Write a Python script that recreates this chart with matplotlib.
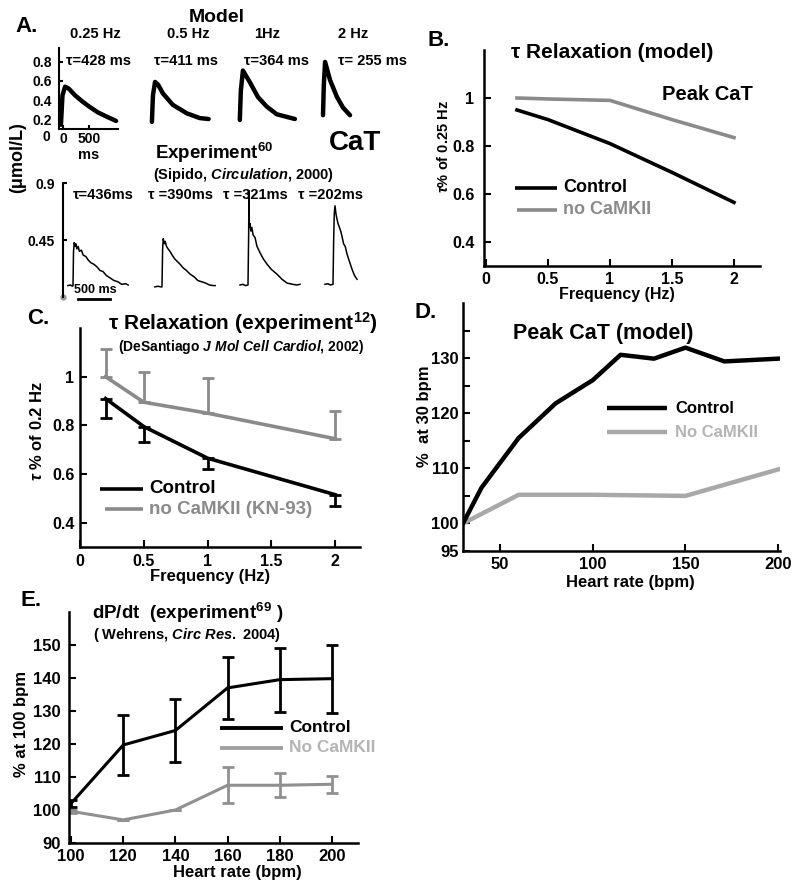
import numpy as np
import matplotlib
matplotlib.use("Agg")
import matplotlib.pyplot as plt
from matplotlib.lines import Line2D

plt.rcParams['font.family'] = ['Liberation Sans', 'DejaVu Sans']
plt.rcParams['font.weight'] = 'bold'
plt.rcParams['mathtext.fontset'] = 'custom'
plt.rcParams['mathtext.rm'] = 'Liberation Sans:bold'
plt.rcParams['mathtext.bf'] = 'Liberation Sans:bold'
plt.rcParams['mathtext.it'] = 'Liberation Sans:bold:italic'

# ---- A. model CaT traces (ms after stimulus, umol/L)
model_freqs = ['0.25 Hz', '0.5 Hz', '1Hz', '2 Hz']
model_tau = ['τ=428 ms', 'τ=411 ms', 'τ=364 ms', 'τ= 255 ms']
model_t1 = [0, 30, 80, 150, 270, 400, 520, 710, 900, 1060]
model_v1 = [0.14, 0.45, 0.54, 0.52, 0.45, 0.39, 0.34, 0.27, 0.22, 0.18]
model_t2 = [0, 20, 60, 120, 210, 400, 670, 920, 1090]
model_v2 = [0.17, 0.45, 0.59, 0.56, 0.47, 0.35, 0.26, 0.21, 0.20]
model_t3 = [0, 20, 60, 190, 350, 520, 710, 1060]
model_v3 = [0.19, 0.50, 0.71, 0.59, 0.43, 0.33, 0.25, 0.20]
model_t4 = [0, 15, 40, 135, 270, 385, 520]
model_v4 = [0.24, 0.55, 0.80, 0.61, 0.43, 0.32, 0.24]

# ---- A. experimental CaT traces (Sipido 2000)
exp_tau = ['τ=436ms', 'τ =390ms', 'τ =321ms', 'τ =202ms']
exp_t1 = [-80, -40, -10, 0, 8, 20, 30, 45, 60, 80, 100, 130, 160, 200, 240,
          280, 320, 370, 420, 470, 520, 580, 640, 700, 760, 820, 860]
exp_v1 = [0.09, 0.095, 0.085, 0.09, 0.36, 0.43, 0.40, 0.42, 0.38, 0.40, 0.36,
          0.37, 0.33, 0.32, 0.29, 0.27, 0.26, 0.24, 0.21, 0.20, 0.17, 0.15,
          0.13, 0.12, 0.10, 0.105, 0.095]
exp_t2 = [-110, -60, -20, 0, 10, 20, 35, 50, 70, 95, 125, 160, 200, 240, 280,
          330, 380, 440, 500, 560, 620, 680, 740, 800, 830]
exp_v2 = [0.08, 0.085, 0.08, 0.08, 0.38, 0.46, 0.42, 0.44, 0.40, 0.38, 0.36,
          0.33, 0.30, 0.28, 0.26, 0.23, 0.21, 0.18, 0.16, 0.13, 0.12, 0.11,
          0.095, 0.09, 0.09]
exp_t3 = [-125, -80, -40, 0, 10, 15, 20, 31, 45, 60, 80, 109, 140, 187, 240,
          296, 360, 452, 530, 608, 700, 760, 811]
exp_v3 = [0.095, 0.10, 0.09, 0.095, 0.50, 0.84, 0.55, 0.58, 0.52, 0.55, 0.49,
          0.47, 0.40, 0.35, 0.30, 0.26, 0.22, 0.18, 0.14, 0.11, 0.10, 0.095, 0.10]
exp_t4 = [-125, -80, -40, 0, 10, 20, 31, 45, 60, 78, 100, 120, 140, 165, 190,
          218, 250, 296, 335, 374]
exp_v4 = [0.10, 0.105, 0.095, 0.10, 0.45, 0.66, 0.72, 0.66, 0.62, 0.58, 0.55,
          0.52, 0.48, 0.42, 0.40, 0.34, 0.29, 0.22, 0.17, 0.14]

# ---- B. tau relaxation (model)
freq_b = [0.25, 0.5, 1, 1.5, 2]
ctrl_b = [0.95, 0.91, 0.81, 0.69, 0.565]
nocam_b = [1.0, 0.996, 0.99, 0.91, 0.835]

# ---- C. tau relaxation (experiment)
freq_c = [0.2, 0.5, 1, 2]
ctrl_c = [0.91, 0.795, 0.665, 0.515]
ctrl_c_err = [0.08, 0.065, 0.045, 0.045]
nocam_c = [1.0, 0.895, 0.85, 0.745]
nocam_c_err = [0.115, 0.125, 0.145, 0.115]

# ---- D. peak CaT (model)
hr_d_ctrl = [30, 40, 60, 80, 100, 115, 133, 150, 171, 200]
ctrl_d = [100, 106.5, 115.5, 121.8, 126, 130.6, 129.9, 131.9, 129.4, 129.9]
hr_d_nocam = [30, 60, 100, 150, 200]
nocam_d = [100, 105.2, 105.2, 105.0, 109.8]

# ---- E. dP/dt (experiment)
hr_e = [100, 120, 140, 160, 180, 200]
ctrl_e = [102, 119.7, 124.1, 137, 139.5, 139.8]
ctrl_e_err = [1, 9, 9.5, 9.5, 9.7, 10.3]
nocam_e = [99.6, 97, 100, 107.5, 107.5, 107.8]
nocam_e_err = [0.5, 0, 0, 5.4, 3.7, 2.6]

GRAY = '#8a8a8a'
W, H = 800, 885
fig = plt.figure(figsize=(8, 8.85), dpi=100)


def box(x0, y0, x1, y1):
    return [x0 / W, 1 - y1 / H, (x1 - x0) / W, (y1 - y0) / H]


def label(x, y, s, size, **kw):
    kw.setdefault('ha', 'center')
    kw.setdefault('va', 'center')
    kw.setdefault('fontweight', 'bold')
    return fig.text(x / W, 1 - y / H, s, fontsize=size, **kw)


def key(x0, x1, y, color, text, lw, size, tcolor=None, gap=6):
    fig.add_artist(Line2D([x0 / W, x1 / W], [1 - y / H] * 2, color=color,
                          lw=lw, solid_capstyle='butt'))
    label(x1 + gap, y, text, size, ha='left', color=tcolor or color)


def style(ax, lw=1.8, size=11.5):
    for s in ['top', 'right']:
        ax.spines[s].set_visible(False)
    for s in ['left', 'bottom']:
        ax.spines[s].set_linewidth(lw)
    ax.tick_params(direction='in', length=5, width=1.5, labelsize=size)


# ================= A. model traces
axm = fig.add_axes(box(59, 48, 410, 129))
model_t = [model_t1, model_t2, model_t3, model_t4]
model_v = [model_v1, model_v2, model_v3, model_v4]
model_offsets = [-40, 1710, 3400, 5000]
for t, v, off in zip(model_t, model_v, model_offsets):
    axm.plot(np.array(t) + off, v, color='k', lw=3.2, solid_capstyle='round')
axm.set_xlim(-77, 6673)
axm.set_ylim(0.095, 0.947)
style(axm, lw=1.5, size=10)
axm.spines['bottom'].set_bounds(-77, 1060)
axm.tick_params(length=3, pad=2)
axm.tick_params(axis='y', pad=5)
axm.set_yticks([0.2, 0.4, 0.6, 0.8])
axm.set_xticks([0, 500])
label(46, 137, '0', 10)
label(89, 155, 'ms', 10.5)

# ================= A. experimental traces
axx = fig.add_axes(box(63, 183, 365, 297))
exp_t = [exp_t1, exp_t2, exp_t3, exp_t4]
exp_v = [exp_v1, exp_v2, exp_v3, exp_v4]
exp_offsets = [156, 1544, 2886, 4212]
for t, v, off in zip(exp_t, exp_v, exp_offsets):
    axx.plot(np.array(t) + off, v, color='k', lw=1.1)
axx.set_xlim(0, 4711)
axx.set_ylim(0, 0.9)
style(axx, lw=1.5, size=10)
axx.spines['bottom'].set_visible(False)
axx.set_xticks([])
axx.set_yticks([0.45, 0.9])
axx.set_yticklabels(['0.45', '0.9'])
axx.tick_params(axis='y', length=3, pad=6)
axx.plot([0], [0], 'o', ms=3.5, color='#999999', clip_on=False)
axx.plot([234, 734], [-0.015, -0.015], color='k', lw=2, clip_on=False)
label(95, 290, '500 ms', 9)

label(27, 26, 'A.', 16)
label(217, 18, 'Model', 14)
for xp, s in zip([95, 188, 267, 353], model_freqs):
    label(xp, 34, s, 10.5)
for xp, s in zip([98, 186, 276, 373], model_tau):
    label(xp, 61, s, 10.5)
for xp, s in zip([103, 180, 255, 330], exp_tau):
    label(xp, 195, s, 10.5)
label(355, 143, 'CaT', 20)
label(155, 153, r'Experiment$^{60}$', 13.5, ha='left')
label(153, 175, r'(Sipido, $\it{Circulation}$, 2000)', 10.5, ha='left')
label(18, 158, '(μmol/L)', 13, rotation=90)

# ================= B
axb = fig.add_axes(box(484, 50, 760, 266))
axb.plot(freq_b, nocam_b, color=GRAY, lw=2.6)
axb.plot(freq_b, ctrl_b, color='k', lw=2.6)
axb.set_xlim(-0.016, 2.21)
axb.set_ylim(0.3, 1.2)
style(axb)
axb.set_xticks([0, 0.5, 1, 1.5, 2])
axb.set_xticklabels(['0', '0.5', '1', '1.5', '2'])
axb.set_yticks([0.4, 0.6, 0.8, 1])
axb.set_yticklabels(['0.4', '0.6', '0.8', '1'])
axb.tick_params(axis='y', pad=7)
axb.tick_params(axis='x', pad=4)
label(439, 40, 'B.', 16)
label(612, 53, 'τ Relaxation (model)', 15)
label(707, 95, 'Peak CaT', 14.5)
key(515, 557, 188, 'k', 'Control', 2.6, 13)
key(517, 557, 210, GRAY, 'no CaMKII', 2.6, 13)
label(443, 147, r'$\tau$% of 0.25 Hz', 10.5, rotation=90)
label(617, 294, 'Frequency (Hz)', 11.5)

# ================= C
axc = fig.add_axes(box(80, 328, 360, 547))
axc.errorbar(freq_c, nocam_c, yerr=[np.zeros(len(nocam_c)), nocam_c_err],
             color=GRAY, lw=2.6, elinewidth=2, capsize=4, capthick=2)
axc.errorbar(freq_c, ctrl_c, yerr=[ctrl_c_err, np.zeros(len(ctrl_c))],
             color='k', lw=2.6, elinewidth=2, capsize=4, capthick=2)
axc.set_xlim(0.008, 2.195)
axc.set_ylim(0.3, 1.2)
style(axc)
axc.set_xticks([0, 0.5, 1, 1.5, 2])
axc.set_xticklabels(['0', '0.5', '1', '1.5', '2'])
axc.set_yticks([0.4, 0.6, 0.8, 1])
axc.set_yticklabels(['0.4', '0.6', '0.8', '1'])
axc.tick_params(axis='y', pad=4)
axc.tick_params(axis='x', pad=5)
label(38, 318, 'C.', 16)
label(243, 323, r'τ Relaxation (experiment$^{12}$)', 15)
label(241, 347, r'(DeSantiago $\it{J\ Mol\ Cell\ Cardiol}$, 2002)', 10)
key(100, 143, 489, 'k', 'Control', 2.6, 13.5)
key(105, 143, 509, GRAY, 'no CaMKII (KN-93)', 2.6, 13.5)
label(37, 431, r'$\tau$ % of 0.2 Hz', 12, rotation=90)
label(210, 577, 'Frequency (Hz)', 12)

# ================= D
axd = fig.add_axes(box(463, 303, 780, 551))
axd.plot(hr_d_nocam, nocam_d, color='#a8a8a8', lw=3.2)
axd.plot(hr_d_ctrl, ctrl_d, color='k', lw=3.2)
axd.set_xlim(30, 201)
axd.set_ylim(95, 140)
style(axd, size=12)
axd.set_xticks([50, 100, 150, 200])
axd.set_yticks(np.arange(95, 140, 5))
axd.set_yticklabels(['95', '100', '', '110', '', '120', '', '130', ''])
axd.tick_params(axis='y', pad=3)
axd.tick_params(axis='x', pad=4)
label(426, 312, 'D.', 16)
label(603, 333, 'Peak CaT (model)', 15.5)
key(607, 667, 408, 'k', 'Control', 3.2, 12, gap=8)
key(607, 667, 432, '#a8a8a8', 'No CaMKII', 3.2, 12, tcolor='#b4b4b4', gap=8)
label(425, 416, '%  at 30 bpm', 12, rotation=90)
label(630, 582, 'Heart rate (bpm)', 12)

# ================= E
axe = fig.add_axes(box(69, 612, 358, 843))
axe.errorbar(hr_e, nocam_e, yerr=nocam_e_err, color='#909090', lw=2.2,
             elinewidth=2, capsize=4, capthick=2)
axe.errorbar(hr_e, ctrl_e, yerr=ctrl_e_err, color='k', lw=2.2,
             elinewidth=2, capsize=4, capthick=2)
axe.set_xlim(99.2, 210)
axe.set_ylim(90, 160)
style(axe, size=12)
axe.set_xticks([100, 120, 140, 160, 180, 200])
axe.set_yticks([90, 100, 110, 120, 130, 140, 150])
axe.tick_params(axis='y', pad=6)
axe.tick_params(axis='x', pad=4)
label(31, 600, 'E.', 16)
label(92, 613, r'dP/dt  (experiment$^{69}$ )', 13.5, ha='left')
label(93, 635, r'( Wehrens, $\it{Circ\ Res.}$ 2004)', 10.5, ha='left')
key(220, 283, 728, 'k', 'Control', 2.8, 12.5)
key(220, 283, 748, '#a0a0a0', 'No CaMKII', 2.8, 12.5, tcolor='#b4b4b4')
label(22, 724, '% at 100 bpm', 12, rotation=90)
label(237, 872, 'Heart rate (bpm)', 12)

fig.savefig('out.png', dpi=100)
